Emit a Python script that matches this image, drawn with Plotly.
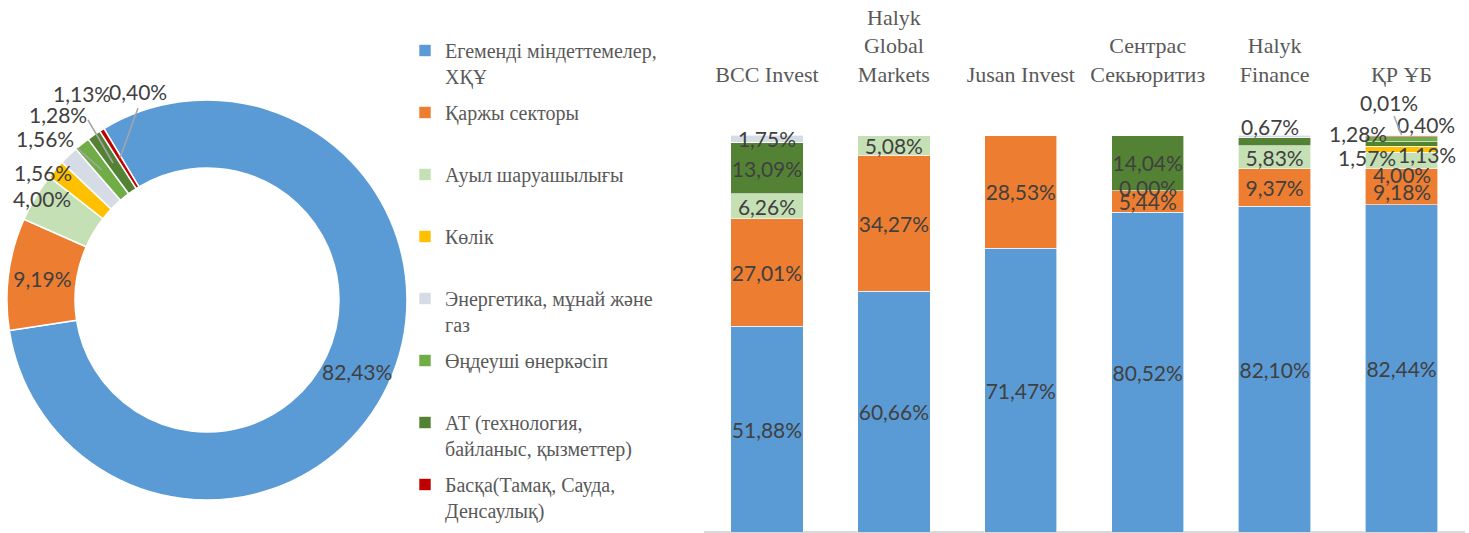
import plotly.graph_objects as go

# ---------------- data ----------------
series_names = [
    "Егеменді міндеттемелер, ХҚҰ",
    "Қаржы секторы",
    "Ауыл шаруашылығы",
    "Көлік",
    "Энергетика, мұнай және газ",
    "Өңдеуші өнеркәсіп",
    "АТ (технология, байланыс, қызметтер)",
    "Басқа(Тамақ, Сауда, Денсаулық)",
]
legend_labels = [
    "Егеменді міндеттемелер,<br>ХҚҰ",
    "Қаржы секторы<br> ",
    "Ауыл шаруашылығы<br> ",
    "Көлік<br> ",
    "Энергетика, мұнай және<br>газ",
    "Өңдеуші өнеркәсіп<br> ",
    "АТ (технология,<br>байланыс, қызметтер)",
    "Басқа(Тамақ, Сауда,<br>Денсаулық)",
]
colors = ["#5B9BD5", "#ED7D31", "#C5E0B4", "#FFC000", "#D6DCE5", "#70AD47", "#548235", "#C00000"]

# donut (portfolio structure)
donut_values = [82.43, 9.19, 4.00, 1.56, 1.56, 1.28, 1.13, 0.40]

# stacked bars per company
categories = ["BCC Invest", "Halyk Global Markets", "Jusan Invest", "Сентрас Секьюритиз", "Halyk Finance", "ҚР ҰБ"]
category_ticks = ["BCC Invest", "Halyk<br>Global<br>Markets", "Jusan Invest", "Сентрас<br>Секьюритиз", "Halyk<br>Finance", "ҚР ҰБ"]
egemendi   = [51.88, 60.66, 71.47, 80.52, 82.10, 82.44]
qarzhy     = [27.01, 34.27, 28.53, 5.44, 9.37, 9.18]
auyl       = [6.26, 5.08, 0.00, 0.00, 5.83, 4.00]
kolik      = [0.00, 0.00, 0.00, 0.00, 0.00, 1.57]
energetika = [1.75, 0.00, 0.00, 0.00, 0.67, 0.01]
ondeushi   = [0.00, 0.00, 0.00, 0.00, 0.00, 1.28]
at_tech    = [13.09, 0.00, 0.00, 14.04, 2.03, 1.13]
baska      = [0.00, 0.00, 0.00, 0.00, 0.00, 0.40]

bar_series = [egemendi, qarzhy, auyl, kolik, energetika, ondeushi, at_tech, baska]
# stacking order (bottom -> top) as index into series_names
stack_order = [0, 1, 2, 3, 6, 5, 7, 4]


def fmt(v):
    return f"{v:.2f}".replace(".", ",") + "%"


LABEL_FONT = dict(family="Lato, Liberation Sans, sans-serif", size=21, color="#404040")
SERIF = "Liberation Serif, Times New Roman, serif"

# labels placed as annotations instead of in-bar text: (series idx, category idx) -> (xshift, yshift, arrow)
moved_labels = {
    (2, 3): (0, 3, None),
    (4, 4): (-5, 10, None),
    (1, 5): (0, -5, None),
    (2, 5): (0, -14, None),
    (3, 5): (-35, -8, None),
    (6, 5): (25, -11, None),
    (5, 5): (-44, 6, None),
    (7, 5): (24, 11, None),
    (4, 5): (0, 0, (-13, -33)),
}
hidden_labels = {(6, 4)}

fig = go.Figure()

fig.add_trace(go.Pie(
    labels=series_names,
    values=donut_values,
    customdata=[fmt(v) for v in donut_values],
    texttemplate="%{customdata}",
    textposition=["none", "inside"] + ["none"] * 6,
    insidetextorientation="horizontal",
    textfont=LABEL_FONT,
    hole=0.66,
    sort=False,
    direction="clockwise",
    rotation=-31,
    marker=dict(colors=colors, line=dict(color="white", width=1.5)),
    domain=dict(x=[207 / 1469 - 200 / 1469, 207 / 1469 + 200 / 1469],
                y=[(533 - 300) / 533 - 200 / 533, (533 - 300) / 533 + 200 / 533]),
    showlegend=False,
))

annotations = []
for si in stack_order:
    vals = bar_series[si]
    texts = []
    for ci, v in enumerate(vals):
        if (si, ci) in moved_labels or (si, ci) in hidden_labels:
            texts.append("")
        else:
            texts.append(fmt(v))
    fig.add_trace(go.Bar(
        x=categories,
        y=vals,
        name=legend_labels[si],
        legendgroup=series_names[si],
        legendrank=si + 1,
        marker=dict(color=colors[si], line=dict(color="white", width=0.6)),
        text=texts,
        texttemplate="%{text}",
        textposition="inside",
        insidetextanchor="middle",
        textangle=0,
        constraintext="none",
        textfont=LABEL_FONT,
        xaxis="x", yaxis="y",
    ))

# annotation labels for small segments: anchored at segment middle computed from data
for (si, ci), (xs, ys, arrow) in moved_labels.items():
    pos = stack_order.index(si)
    base = sum(bar_series[stack_order[k]][ci] for k in range(pos))
    mid = base + bar_series[si][ci] / 2
    ann = dict(x=categories[ci], y=mid, xref="x", yref="y", text=fmt(bar_series[si][ci]),
               font=LABEL_FONT, xshift=xs, yshift=ys, xanchor="center", yanchor="middle")
    if arrow:
        ann.update(showarrow=True, ax=arrow[0], ay=arrow[1], arrowhead=0, arrowwidth=1.5,
                   arrowcolor="#A6A6A6", y=base + bar_series[si][ci])
    else:
        ann.update(showarrow=False)
    annotations.append(ann)

# donut labels placed like the original (big slice label + outside labels of small slices)
donut_placed = [(0, 357, 372), (2, 42, 198), (3, 43, 172), (4, 45, 138), (5, 58, 115), (6, 82, 93), (7, 138, 92)]
for idx, xpx, ypx in donut_placed:
    annotations.append(dict(x=xpx / 1469, y=(533 - ypx) / 533, xref="paper", yref="paper",
                            xanchor="center", yanchor="middle",
                            text=fmt(donut_values[idx]), showarrow=False, font=LABEL_FONT))

shapes = []
for (x0, y0, x1, y1) in [(77, 148, 102, 170), (88, 120, 113, 163), (138, 108, 120, 158)]:
    shapes.append(dict(type="line", xref="paper", yref="paper",
                       x0=x0 / 1469, y0=(533 - y0) / 533, x1=x1 / 1469, y1=(533 - y1) / 533,
                       line=dict(color="#A6A6A6", width=1.5)))

fig.update_layout(
    width=1469, height=533,
    margin=dict(l=0, r=0, t=0, b=0),
    paper_bgcolor="white", plot_bgcolor="white",
    barmode="stack", bargap=0.43,
    uniformtext=dict(minsize=21, mode="show"),
    xaxis=dict(domain=[703.5 / 1469, 1465 / 1469], side="top", type="category",
               tickvals=categories, ticktext=category_ticks, showline=False, showgrid=False,
               ticks="", tickfont=dict(family=SERIF, size=22, color="#595959")),
    yaxis=dict(domain=[1 / 533, (533 - 87.4) / 533], range=[0, 112], showgrid=False,
               showticklabels=False, zeroline=True, zerolinecolor="#D9D9D9", zerolinewidth=1.5,
               showline=False),
    legend=dict(x=405 / 1469, y=(533 - 31) / 533, xanchor="left", yanchor="top",
                traceorder="grouped", tracegroupgap=7, valign="top",
                font=dict(family=SERIF, size=20, color="#595959"), bgcolor="rgba(0,0,0,0)"),
    annotations=annotations,
    shapes=shapes,
    showlegend=True,
)

fig.write_html("out.html", config={"displayModeBar": False},
               post_script="document.body.style.margin='0';document.body.style.overflow='hidden';")
